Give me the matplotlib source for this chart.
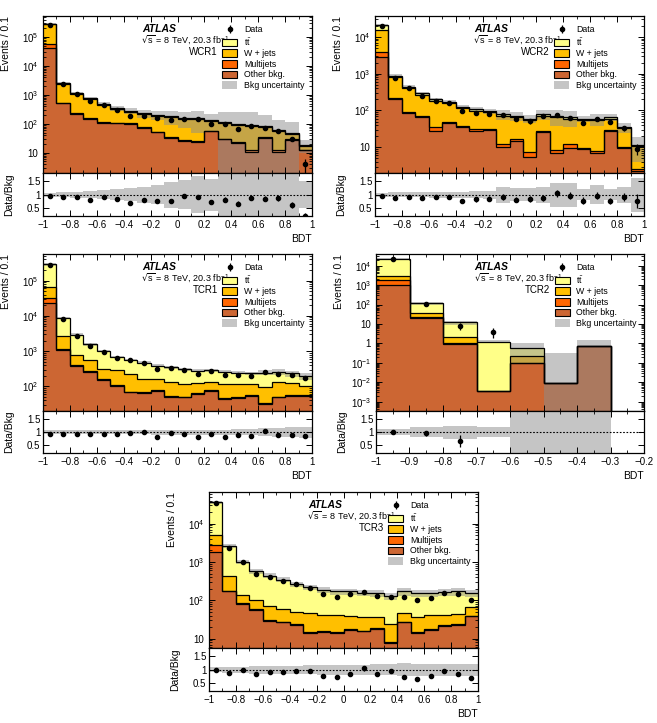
import matplotlib
matplotlib.use('Agg')
import matplotlib.pyplot as plt
import matplotlib.ticker as ticker
from matplotlib.patches import Patch
import numpy as np

plt.rcParams['font.family'] = ['Liberation Sans', 'DejaVu Sans']
plt.rcParams['mathtext.default'] = 'regular'
plt.rcParams['font.size'] = 7

# ---- binning ----
edges20 = np.round(np.linspace(-1, 1, 21), 2)
edges8 = np.round(np.linspace(-1, -0.2, 9), 2)

# ---- WCR1 ----
wcr1_other = [4.0e4, 525, 225, 150, 107, 107, 100, 72, 51, 32, 25, 24, 55, 29, 22, 11, 33, 11, 28, 12]
wcr1_mj = [1.5e4, 15, 8, 6, 5, 4, 4, 3, 3, 2, 2, 2, 2, 1.5, 1.5, 1, 1, 1, 1, 0.5]
wcr1_wj = [2.22e5, 1810, 842, 544, 343, 214, 156, 143, 136, 132, 120, 121, 70, 79.5, 68.5, 73, 41, 46, 16, 5]
wcr1_tt = [3000, 150, 75, 50, 35, 25, 20, 17, 15, 14, 13, 13, 11, 10, 8, 8, 7, 5, 4, 1.5]
wcr1_data = [266000, 2300, 1035, 600, 450, 300, 188, 188, 160, 135, 152, 147, 100, 98, 67, 82, 70, 55, 30, 4]
wcr1_unc = [0.08, 0.1, 0.12, 0.14, 0.17, 0.2, 0.25, 0.3, 0.35, 0.48, 0.55, 0.7, 0.6, 1.2, 1.6, 1.8, 1.5, 1.2, 1.4, 0.5]

# ---- WCR2 ----
wcr2_other = [2900, 210, 85, 66, 28, 47, 36, 28, 30, 10, 15, 5.4, 26.5, 7, 9.4, 9, 7, 28, 9.6, 2.3]
wcr2_mj = [1060, 8, 5, 4, 7, 2, 2, 4, 1.5, 2.3, 2, 2, 1, 1.2, 2.6, 0.8, 1, 0.8, 0.5, 0.2]
wcr2_wj = [11040, 582, 310, 197, 149, 107, 79, 66, 57.5, 60.7, 48, 47.6, 45.5, 56.8, 48, 45.2, 47, 31.2, 22.9, 8.2]
wcr2_tt = [5500, 70, 35, 23, 16, 14, 10, 9, 8, 7, 6, 5, 7, 6, 5, 5, 5, 5, 3, 1]
wcr2_data = [19900, 765, 400, 255, 180, 156, 95, 88, 82, 74, 58, 51, 70, 75, 63, 47, 58, 49, 33, 9]
wcr2_unc = [0.08, 0.1, 0.1, 0.1, 0.12, 0.12, 0.12, 0.14, 0.15, 0.3, 0.25, 0.25, 0.3, 0.45, 0.45, 0.2, 0.35, 0.2, 0.3, 0.65]

# ---- TCR1 ----
tcr1_other = [2.3e4, 1070, 380, 260, 155, 105, 68, 65, 76, 51, 49, 61, 76, 44, 47, 55, 32, 49, 55, 55]
tcr1_mj = [9000, 60, 15, 8, 5, 4, 3, 3, 3, 2, 2, 2, 2, 2, 2, 2, 2, 2, 2, 2]
tcr1_wj = [3.6e4, 1570, 385, 282, 150, 186, 154, 92, 81, 77, 66, 61, 52, 71, 68, 60, 64, 79, 67, 48]
tcr1_tt = [2.22e5, 6000, 2170, 1000, 690, 395, 335, 315, 225, 215, 193, 153, 160, 141, 130, 116, 149, 128, 109, 95]
tcr1_data = [275000, 8000, 2740, 1430, 940, 635, 545, 475, 315, 338, 288, 227, 275, 212, 217, 198, 260, 227, 205, 170]
tcr1_unc = [0.08, 0.08, 0.08, 0.08, 0.08, 0.08, 0.08, 0.08, 0.1, 0.1, 0.1, 0.1, 0.1, 0.1, 0.12, 0.12, 0.15, 0.18, 0.2, 0.22]

# ---- TCR2 ----
tcr2_other = [1000, 19.5, 0.95, 0.0035, 0.1, 0.009, 0.76, 0]
tcr2_mj = [820, 4.5, 0.05, 0, 0, 0, 0, 0]
tcr2_wj = [1280, 11.6, 1.24, 0, 0.13, 0, 0, 0]
tcr2_tt = [18900, 79.4, 9.76, 1.23, 0.33, 0, 0, 0]
tcr2_data = [21800, 110, 8, 4, 0, 0, 0, 0]
tcr2_unc = [0.12, 0.2, 0.25, 0.2, 0.85, 33, 1.0, 0]

# ---- TCR3 ----
tcr3_other = [1830, 170, 81, 57, 29.5, 27, 23, 14, 15, 14, 17, 15.5, 18, 7.8, 27, 14, 17, 22, 23, 38]
tcr3_mj = [1000, 8, 3, 2, 1.5, 1, 1, 1, 0.8, 0.8, 0.8, 0.8, 0.8, 0.5, 0.8, 0.8, 0.8, 0.8, 0.8, 1]
tcr3_wj = [2170, 247, 51, 45, 38, 32, 27, 32, 26.2, 26.2, 20.2, 20.7, 17.2, 15.2, 19.2, 22.2, 23.2, 19.2, 20.2, 27]
tcr3_tt = [31000, 2145, 865, 466, 371, 285, 216, 171, 148, 130, 133, 118, 119, 103.5, 124, 118, 114, 120, 127, 89]
tcr3_data = [35300, 2280, 980, 485, 396, 317, 259, 207, 148, 123, 145, 163, 132, 121, 123, 101, 116, 154, 145, 105]
tcr3_unc = [0.1, 0.12, 0.12, 0.15, 0.15, 0.15, 0.15, 0.17, 0.18, 0.18, 0.18, 0.18, 0.2, 0.2, 0.25, 0.22, 0.22, 0.22, 0.22, 0.22]

c_tt = '#FFFF88'
c_wj = '#FFBF00'
c_mj = '#FF6600'
c_other = '#CC6633'
c_unc = '#8C8C8C'
tiny = 1e-9

W, H = 657, 723
fig = plt.figure(figsize=(W / 100, H / 100), dpi=100)


def fmt_x(v, pos):
    s = f'{round(v, 2):g}'
    if s == '-0':
        s = '0'
    return s.replace('-', '\u2212')


def fmt_log(v, pos):
    e = int(round(np.log10(v)))
    if e == 0:
        return '1'
    if e == 1:
        return '10'
    return '$10^{%d}$' % e


def painel(rect, edges, other, mj, wj, tt, data, unc, ylim, regiao, xmaj, xmin):
    x0, y0, x1, y1, y2 = rect
    ax = fig.add_axes([x0 / W, 1 - y1 / H, (x1 - x0) / W, (y1 - y0) / H])
    rax = fig.add_axes([x0 / W, 1 - y2 / H, (x1 - x0) / W, (y2 - y1) / H])
    ax.set_yscale('log')

    # stacked backgrounds
    base = np.zeros(len(other))
    tops = []
    for vals, col in [(other, c_other), (mj, c_mj), (wj, c_wj), (tt, c_tt)]:
        top = base + np.array(vals, float)
        ax.stairs(np.maximum(top, tiny), edges, baseline=np.maximum(base, tiny),
                  fill=True, color=col, lw=0)
        tops.append(top)
        base = top
    total = base
    unc = np.array(unc, float)

    # uncertainty band
    up = np.maximum(total * (1 + unc), tiny)
    lo = np.maximum(total * (1 - unc), tiny)
    ax.stairs(up, edges, baseline=lo, fill=True, color=c_unc, alpha=0.5, lw=0)

    for top in tops:
        ax.stairs(np.maximum(top, tiny), edges, baseline=None, color='k', lw=0.9)

    # data
    centers = 0.5 * (edges[1:] + edges[:-1])
    data = np.array(data, float)
    err = np.sqrt(data)
    m = data > 0
    h = ax.errorbar(centers[m], data[m], yerr=err[m], fmt='o', color='k',
                    ms=3, elinewidth=0.9, capsize=0)

    ax.set_xlim(edges[0], edges[-1])
    ax.set_ylim(*ylim)

    # ratio
    ok = total > 0
    safe = np.where(ok, total, 1.0)
    ratio = np.where(ok, data / safe, np.nan)
    rhi = np.where(ok, 1 + unc, 1)
    rlo = np.where(ok, 1 - unc, 1)
    rax.stairs(rhi, edges, baseline=rlo, fill=True, color=c_unc, alpha=0.5, lw=0)
    rax.axhline(1, color='k', ls=(0, (1.5, 1.5)), lw=0.8)
    mr = m & ok & (ratio < 1.8)
    rax.errorbar(centers[mr], ratio[mr], yerr=err[mr] / safe[mr], fmt='o', color='k',
                 ms=3, elinewidth=0.9, capsize=0)
    rax.set_xlim(edges[0], edges[-1])
    rax.set_ylim(0.2, 1.82)

    # ticks
    for a in (ax, rax):
        a.tick_params(which='both', direction='in', top=True, right=True, labelsize=7)
        a.tick_params(which='major', length=4, width=0.7)
        a.tick_params(which='minor', length=2, width=0.6)
        a.xaxis.set_major_locator(ticker.MultipleLocator(xmaj))
        a.xaxis.set_minor_locator(ticker.MultipleLocator(xmin))
        for s in a.spines.values():
            s.set_linewidth(0.9)
    ax.tick_params(axis='x', labelbottom=False)
    rax.xaxis.set_major_formatter(ticker.FuncFormatter(fmt_x))
    # only the decades inside the y range
    dec = np.arange(np.ceil(np.log10(ylim[0])), np.floor(np.log10(ylim[1])) + 1)
    ax.yaxis.set_major_locator(ticker.FixedLocator(10.0 ** dec))
    ax.yaxis.set_minor_locator(ticker.LogLocator(base=10, subs=np.arange(2, 10), numticks=30))
    ax.yaxis.set_major_formatter(ticker.FuncFormatter(fmt_log))
    ax.yaxis.set_minor_formatter(ticker.NullFormatter())
    rax.set_yticks([0.5, 1, 1.5])
    rax.set_yticklabels(['0.5', '1', '1.5'])
    rax.tick_params(axis='x', pad=3)
    rax.tick_params(axis='y', pad=2)

    ax.set_ylabel('Events / 0.1', loc='top', fontsize=7.5)
    ax.yaxis.set_label_coords(-0.12, 1.0)
    rax.set_ylabel('Data/Bkg', fontsize=7.5)
    rax.yaxis.set_label_coords(-0.108, 0.5)
    rax.set_xlabel('BDT', loc='right', fontsize=7.5, labelpad=3)

    # texts
    ax.text(0.368, 0.917, 'ATLAS', transform=ax.transAxes, fontsize=7.5,
            fontweight='bold', fontstyle='italic', va='center')
    ax.text(0.365, 0.85, r'$\sqrt{s}$ = 8 TeV, 20.3 fb$^{-1}$', transform=ax.transAxes,
            fontsize=6.5, va='center')
    ax.text(0.65, 0.77, regiao, transform=ax.transAxes, fontsize=7, ha='right', va='center')

    handles = [h,
               Patch(fc=c_tt, ec='k', lw=0.8),
               Patch(fc=c_wj, ec='k', lw=0.8),
               Patch(fc=c_mj, ec='k', lw=0.8),
               Patch(fc=c_other, ec='k', lw=0.8),
               Patch(fc=c_unc, alpha=0.5, lw=0)]
    labels = ['Data', r'$t\bar{t}$', 'W + jets', 'Multijets', 'Other bkg.', 'Bkg uncertainty']
    ax.legend(handles, labels, loc='upper left', bbox_to_anchor=(0.667, 0.94),
              frameon=False, fontsize=6.3, borderpad=0, borderaxespad=0,
              labelspacing=0.18, handlelength=1.7, handleheight=0.95, handletextpad=0.75)


painel((43, 16, 312, 173, 216), edges20, wcr1_other, wcr1_mj, wcr1_wj, wcr1_tt,
       wcr1_data, wcr1_unc, (2, 5.3e5), 'WCR1', 0.2, 0.1)
painel((375, 16, 644, 173, 216), edges20, wcr2_other, wcr2_mj, wcr2_wj, wcr2_tt,
       wcr2_data, wcr2_unc, (2, 3.7e4), 'WCR2', 0.2, 0.1)
painel((43, 254, 312, 411, 453), edges20, tcr1_other, tcr1_mj, tcr1_wj, tcr1_tt,
       tcr1_data, tcr1_unc, (20, 5.7e5), 'TCR1', 0.2, 0.1)
painel((376, 254, 644, 411, 453), edges8, tcr2_other, tcr2_mj, tcr2_wj, tcr2_tt,
       tcr2_data, tcr2_unc, (3.3e-4, 4e4), 'TCR2', 0.1, 0.05)
painel((209, 492, 478, 648, 691), edges20, tcr3_other, tcr3_mj, tcr3_wj, tcr3_tt,
       tcr3_data, tcr3_unc, (5.7, 6.7e4), 'TCR3', 0.2, 0.1)

fig.savefig('out.png', dpi=100)
